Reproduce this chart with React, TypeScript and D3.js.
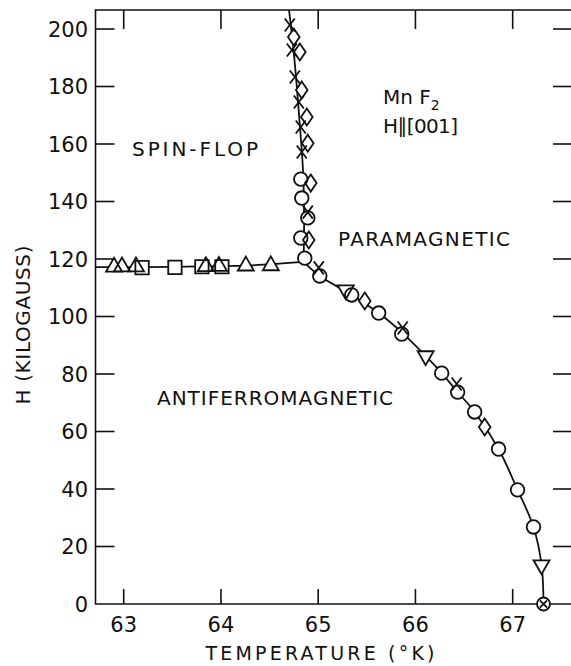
import React from "react";
import * as d3 from "d3";

// ---- data (temperature °K, field kG) ----
const T_TICKS = [63, 64, 65, 66, 67];
const H_TICKS = [0, 20, 40, 60, 80, 100, 120, 140, 160, 180, 200];

// phase boundary lines
const AF_SF_LINE: [number, number][] = [
  [62.71, 117.2], [63.2, 117.2], [63.8, 117.4], [64.3, 117.8], [64.6, 118.4], [64.85, 119],
];
const SF_PARA_LINE: [number, number][] = [
  [64.85, 119], [64.855, 135], [64.845, 150], [64.815, 165], [64.78, 180], [64.74, 195], [64.7, 206.6],
];
const AF_PARA_LINE: [number, number][] = [
  [64.85, 119], [65.016, 114.1], [65.345, 107.5], [65.622, 101.2], [65.859, 94.5], [66.105, 86.3],
  [66.27, 80.3], [66.434, 73.7], [66.609, 66.8], [66.855, 53.9], [67.05, 39.7], [67.214, 26.8],
  [67.297, 13.6], [67.317, 0],
];

// measured points by symbol
const CIRCLES: [number, number][] = [
  [64.821, 147.8], [64.831, 141.2], [64.893, 134.3], [64.821, 127.3], [64.862, 120.3],
  [65.016, 114.1], [65.345, 107.5], [65.622, 101.2], [65.859, 93.9], [66.27, 80.3],
  [66.434, 73.7], [66.609, 66.8], [66.855, 53.9], [67.05, 39.7], [67.214, 26.8],
];
const CROSSES: [number, number][] = [
  [64.708, 201.4], [64.729, 192.7], [64.76, 183.3], [64.801, 174.6], [64.821, 165.9],
  [64.831, 157.2], [64.893, 136.3], [65.006, 116.9], [65.869, 96], [66.424, 76.5],
];
const DIAMONDS: [number, number][] = [
  [64.749, 197.2], [64.811, 192], [64.831, 178.8], [64.883, 169.4], [64.893, 160.3],
  [64.924, 146.4], [64.903, 126.6], [65.479, 105.4], [66.712, 61.6],
];
const TRIANGLES_UP: [number, number][] = [
  [62.901, 117.2], [62.982, 117.3], [63.126, 117.3], [63.845, 117.4], [63.979, 117.5],
  [64.256, 117.6], [64.513, 117.7],
];
const SQUARES: [number, number][] = [
  [63.189, 117.0], [63.527, 117.1], [63.804, 117.3], [64.01, 117.3],
];
const TRIANGLES_DOWN: [number, number][] = [
  [65.283, 109.2], [66.105, 86.3], [67.297, 13.6],
];
const CIRCLED_X: [number, number][] = [[67.317, 0]];

const W = 571;
const H = 666;
const LEFT = 95.5;
const RIGHT = 572;
const TOP = 10;
const BOTTOM = 604;

const FONT = "'DejaVu Sans', sans-serif";
const INK = "#111";

export default function App() {
  const x = d3.scaleLinear().domain([62.71, 67.61]).range([LEFT, RIGHT]);
  const y = d3.scaleLinear().domain([0, 200]).range([BOTTOM, 29]);
  const line = d3
    .line<[number, number]>()
    .x((d) => x(d[0]))
    .y((d) => y(d[1]))
    .curve(d3.curveCatmullRom.alpha(0.5));

  const sw = 1.8;
  const tri = (cx: number, cy: number, up: boolean) => {
    const s = 16;
    const h = (s * Math.sqrt(3)) / 2;
    const k = up ? 1 : -1;
    return `M${cx},${cy - (k * 2 * h) / 3}L${cx + s / 2},${cy + (k * h) / 3}L${cx - s / 2},${cy + (k * h) / 3}Z`;
  };
  const dia = (cx: number, cy: number) => `M${cx},${cy - 8.5}L${cx + 5.8},${cy}L${cx},${cy + 8.5}L${cx - 5.8},${cy}Z`;
  const sq = (cx: number, cy: number) => `M${cx - 6.7},${cy - 6.7}h13.4v13.4h-13.4Z`;
  const cross = (cx: number, cy: number, a: number, b: number) =>
    `M${cx - a},${cy - b}L${cx + a},${cy + b}M${cx + a},${cy - b}L${cx - a},${cy + b}`;

  const shapes = (fill: string, stroke: string) => (
    <g fill={fill} stroke={stroke} strokeWidth={sw}>
      {SQUARES.map((d, i) => <path key={"s" + i} d={sq(x(d[0]), y(d[1]))} />)}
      {TRIANGLES_UP.map((d, i) => <path key={"tu" + i} d={tri(x(d[0]), y(d[1]), true)} />)}
      {TRIANGLES_DOWN.map((d, i) => <path key={"td" + i} d={tri(x(d[0]), y(d[1]), false)} />)}
      {DIAMONDS.map((d, i) => <path key={"d" + i} d={dia(x(d[0]), y(d[1]))} />)}
      {CIRCLES.map((d, i) => <circle key={"c" + i} cx={x(d[0])} cy={y(d[1])} r={6.8} />)}
      {CIRCLED_X.map((d, i) => <circle key={"cx" + i} cx={x(d[0])} cy={y(d[1])} r={6.5} />)}
    </g>
  );

  return (
    <svg
      width={W}
      height={H}
      viewBox={`0 0 ${W} ${H}`}
      style={{ position: "absolute", left: 0, top: 0, background: "#fff" }}
    >
      <rect x={0} y={0} width={W} height={H} fill="#fff" />
      {/* frame */}
      <g stroke={INK} strokeWidth={1.6} fill="none">
        <path d={`M${LEFT},${TOP}V${BOTTOM}H${RIGHT}V${TOP}Z`} />
        {T_TICKS.map((t) => (
          <g key={"tt" + t}>
            <line x1={x(t)} x2={x(t)} y1={BOTTOM} y2={BOTTOM - 15} />
            <line x1={x(t)} x2={x(t)} y1={TOP} y2={TOP + 19} />
          </g>
        ))}
        {H_TICKS.filter((h) => h > 0).map((h) => (
          <g key={"ht" + h}>
            <line x1={LEFT} x2={LEFT + 19} y1={y(h)} y2={y(h)} />
            <line x1={RIGHT} x2={RIGHT - 19} y1={y(h)} y2={y(h)} />
          </g>
        ))}
      </g>
      {/* tick labels */}
      <g fill={INK} fontFamily={FONT} fontSize={21}>
        {T_TICKS.map((t) => (
          <text key={"tl" + t} x={x(t)} y={632} textAnchor="middle">{t}</text>
        ))}
        {H_TICKS.map((h) => (
          <text key={"hl" + h} x={88} y={y(h) + 7.5} textAnchor="end">{h}</text>
        ))}
      </g>
      {/* boundary curves */}
      <g fill="none" stroke={INK} strokeWidth={1.8}>
        <path d={line(AF_SF_LINE) || ""} />
        <path d={line(SF_PARA_LINE) || ""} />
        <path d={line(AF_PARA_LINE) || ""} />
      </g>
      {/* markers: white fill layer then outline layer */}
      {shapes("#fff", "none")}
      {shapes("none", INK)}
      <g stroke={INK} strokeWidth={sw} fill="none">
        {CROSSES.map((d, i) => <path key={"x" + i} d={cross(x(d[0]), y(d[1]), 5, 6.5)} />)}
        {CIRCLED_X.map((d, i) => <path key={"xx" + i} d={cross(x(d[0]), y(d[1]), 3.6, 3.6)} />)}
      </g>
      {/* region labels */}
      <g fill={INK} fontFamily={FONT} fontSize={20}>
        <text x={132} y={156} textLength={126} lengthAdjust="spacing">SPIN-FLOP</text>
        <text x={338} y={246} textLength={172} lengthAdjust="spacing">PARAMAGNETIC</text>
        <text x={157} y={405} textLength={236} lengthAdjust="spacing">ANTIFERROMAGNETIC</text>
        <text x={383} y={104}>
          Mn F<tspan dy={6} fontSize={14}>2</tspan>
        </text>
        <text x={383} y={133} textLength={75} lengthAdjust="spacing">H∥[001]</text>
      </g>
      {/* axis titles */}
      <text x={320} y={660} textAnchor="middle" fontFamily={FONT} fontSize={19} fill={INK}
        textLength={229} lengthAdjust="spacing">
        TEMPERATURE (°K)
      </text>
      <text transform="translate(30,325) rotate(-90)" textAnchor="middle" fontFamily={FONT} fontSize={20}
        fill={INK} textLength={159} lengthAdjust="spacing">
        H (KILOGAUSS)
      </text>
    </svg>
  );
}
